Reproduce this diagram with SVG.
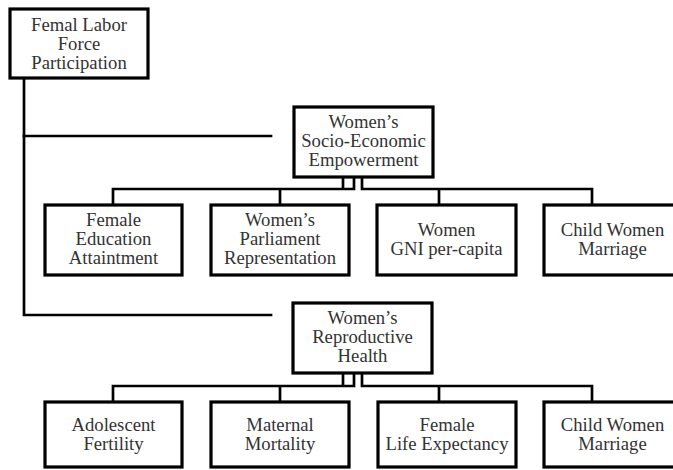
<svg xmlns="http://www.w3.org/2000/svg" width="673" height="470" viewBox="0 0 673 470">
<style>
.box{fill:#fff;stroke:#000;stroke-width:3.2}
.c{fill:none;stroke:#000;stroke-width:2.7;stroke-linecap:square}
text{font-family:"Liberation Serif","Times New Roman",serif;font-size:18.7px;fill:#333;text-anchor:middle}
</style>
<rect width="673" height="470" fill="#fff"/>
<g id="connectors">
<path class="c" d="M24,79 V315 H271"/>
<path class="c" d="M24,136 H271"/>
<path class="c" d="M343,178 V189 M354,178 V189 M113,205 V189 H354 M280,189 V205"/>
<path class="c" d="M362,178 V189 H592 V205 M439,189 V205"/>
<path class="c" d="M343,374 V386 M354,374 V386 M113,402 V386 H354 M280,386 V402"/>
<path class="c" d="M362,374 V386 H592 V402 M439,386 V402"/>
</g>
<g id="flfp">
<rect class="box" x="10" y="9" width="138" height="69"/>
<text x="79" y="31">Femal Labor</text>
<text x="79" y="50">Force</text>
<text x="79" y="69">Participation</text>
</g>
<g id="socio">
<rect class="box" x="294" y="107" width="139" height="70"/>
<text x="363.5" y="128">Women’s</text>
<text x="363.5" y="147">Socio-Economic</text>
<text x="363.5" y="166">Empowerment</text>
</g>
<g id="edu">
<rect class="box" x="45" y="205" width="137" height="70"/>
<text x="113.5" y="226">Female</text>
<text x="113.5" y="245">Education</text>
<text x="113.5" y="264">Attaintment</text>
</g>
<g id="parl">
<rect class="box" x="211" y="205" width="138" height="70"/>
<text x="280" y="226">Women’s</text>
<text x="280" y="245">Parliament</text>
<text x="280" y="264">Representation</text>
</g>
<g id="gni">
<rect class="box" x="377" y="205" width="139" height="70"/>
<text x="446.5" y="236">Women</text>
<text x="446.5" y="255">GNI per-capita</text>
</g>
<g id="marriage1">
<rect class="box" x="544" y="205" width="137" height="70"/>
<text x="612.5" y="236">Child Women</text>
<text x="612.5" y="255">Marriage</text>
</g>
<g id="repro">
<rect class="box" x="293" y="303" width="139" height="70"/>
<text x="362.5" y="324">Women’s</text>
<text x="362.5" y="343">Reproductive</text>
<text x="362.5" y="362">Health</text>
</g>
<g id="adol">
<rect class="box" x="45" y="402" width="137" height="65"/>
<text x="113.5" y="431">Adolescent</text>
<text x="113.5" y="450">Fertility</text>
</g>
<g id="maternal">
<rect class="box" x="211" y="402" width="138" height="65"/>
<text x="280" y="431">Maternal</text>
<text x="280" y="450">Mortality</text>
</g>
<g id="life">
<rect class="box" x="378" y="402" width="138" height="65"/>
<text x="447" y="431">Female</text>
<text x="447" y="450">Life Expectancy</text>
</g>
<g id="marriage2">
<rect class="box" x="544" y="402" width="137" height="65"/>
<text x="612.5" y="431">Child Women</text>
<text x="612.5" y="450">Marriage</text>
</g>
</svg>
